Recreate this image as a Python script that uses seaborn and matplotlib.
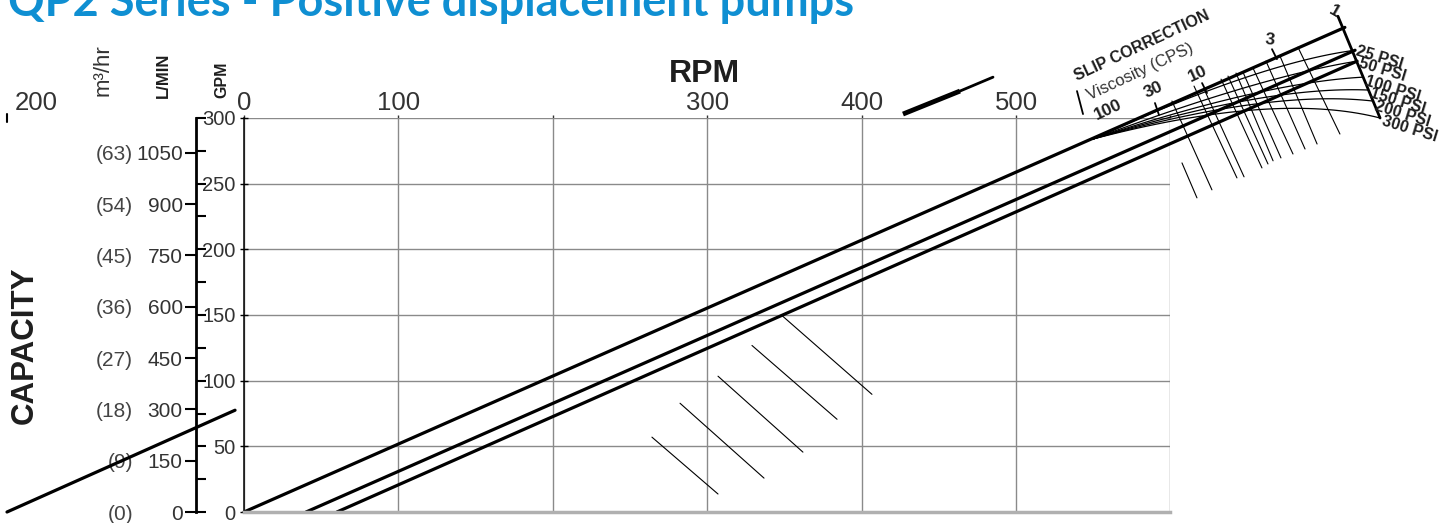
import numpy as np
import pandas as pd
import matplotlib
matplotlib.use("Agg")
import matplotlib.pyplot as plt
import seaborn as sns

W, H = 1447, 523

# axes scales
rpm_ticks = [0, 100, 200, 300, 400, 500, 600]
rpm_labels = ["0", "100", "", "300", "400", "500", ""]
gpm_ticks = [0, 50, 100, 150, 200, 250, 300]
gpm_all_ticks = [0, 25, 50, 75, 100, 125, 150, 175, 200, 225, 250, 275, 300]
lmin_ticks = [0, 150, 300, 450, 600, 750, 900, 1050]
m3hr_labels = ["(0)", "(9)", "(18)", "(27)", "(36)", "(45)", "(54)", "(63)"]
LMIN_PER_GPM = 3.84

# the three capacity lines (rpm, gpm)
cap_start_rpm = [0, 40.2, 60.2]
cap_end_rpm = [713, 719.6, 720.9]
cap_end_gpm = [369, 351.6, 343.3]

# pressure fan of the slip correction
fan_rpm, fan_gpm = 549.9, 284
psi_labels = ["25 PSI", "50 PSI", "100 PSI", "150 PSI", "200 PSI", "300 PSI"]
psi_end_rpm = [719.6, 720.9, 724.7, 728.0, 731.2, 735.8]
psi_end_gpm = [351.6, 343.3, 331.1, 321.3, 312.9, 300.0]
psi_bend_rpm = [658, 658, 660, 662, 664, 668]
psi_bend_gpm = [342.1, 331.5, 327.0, 324.5, 322.0, 320.5]
psi_scale_rpm = [708.5, 735.8]
psi_scale_gpm = [377.5, 300.0]

# viscosity hatch lines
hatch_rpm0 = [607.5, 601.0, 615.3, 621.8, 632.8, 637.3, 642.5, 647.0, 653.5, 661.9, 671.0, 682.6]
hatch_gpm0 = [265.8, 312.9, 324.3, 322.0, 329.6, 331.9, 334.2, 334.9, 338.0, 343.3, 347.1, 353.9]
hatch_rpm1 = [617.2, 626.9, 643.1, 647.7, 659.3, 663.2, 666.5, 671.6, 679.4, 687.2, 695.0, 709.8]
hatch_gpm1 = [239.2, 245.3, 254.4, 255.2, 262.0, 265.0, 267.4, 269.6, 272.6, 276.4, 280.2, 287.8]

# viscosity scale ticks
visc_rpm0 = [539.5, 590.0, 620.5, 665.8]
visc_gpm0 = [320.5, 311.4, 326.6, 352.4]
visc_rpm1 = [543.4, 592.6, 623.7, 669.0]
visc_gpm1 = [303.0, 302.3, 319.0, 344.8]

# thin guide lines inside the chart
guide_rpm0 = [264.2, 282.4, 307.0, 329.0, 348.4]
guide_gpm0 = [57.0, 82.8, 103.4, 126.8, 149.6]
guide_rpm1 = [307.0, 336.8, 362.0, 384.1, 406.7]
guide_gpm1 = [13.7, 25.8, 45.6, 70.6, 89.6]

# fragments
wedge_rpm = [426.8, 463.7, 485.1]
wedge_gpm = [303.0, 320.5, 331.1]
left_rpm = [-153.5, -5.8]
left_gpm = [0, 77.5]

sns.set_theme(style="white")
plt.rcParams["font.family"] = ["Liberation Sans", "DejaVu Sans"]
txt = "#333333"
dark = "#1e1e1e"

fig = plt.figure(figsize=(W / 100, H / 100), dpi=100)
ax = fig.add_axes([244 / W, (H - 512) / H, (1170.4 - 244) / W, (512 - 118) / H])

cap = pd.DataFrame({
    "rpm": cap_start_rpm + cap_end_rpm,
    "gpm": [0, 0, 0] + cap_end_gpm,
    "line": [0, 1, 2, 0, 1, 2],
})
sns.lineplot(data=cap, x="rpm", y="gpm", units="line", estimator=None,
             color="black", lw=2.3, clip_on=False, legend=False, ax=ax)

# pressure curves (quadratic bezier from the fan point)
t = np.linspace(0, 1, 40)
for ex, ey, bx, by in zip(psi_end_rpm, psi_end_gpm, psi_bend_rpm, psi_bend_gpm):
    cx = (1 - t) ** 2 * fan_rpm + 2 * t * (1 - t) * bx + t ** 2 * ex
    cy = (1 - t) ** 2 * fan_gpm + 2 * t * (1 - t) * by + t ** 2 * ey
    ax.plot(cx, cy, color="black", lw=0.9, clip_on=False)
ax.plot(psi_scale_rpm, psi_scale_gpm, color="black", lw=2.0, clip_on=False)

for x0, y0, x1, y1 in zip(hatch_rpm0, hatch_gpm0, hatch_rpm1, hatch_gpm1):
    ax.plot([x0, x1], [y0, y1], color="black", lw=0.8, clip_on=False)
for x0, y0, x1, y1 in zip(visc_rpm0, visc_gpm0, visc_rpm1, visc_gpm1):
    ax.plot([x0, x1], [y0, y1], color="black", lw=1.3, clip_on=False)
for x0, y0, x1, y1 in zip(guide_rpm0, guide_gpm0, guide_rpm1, guide_gpm1):
    ax.plot([x0, x1], [y0, y1], color="black", lw=0.8, clip_on=False)

ax.plot(wedge_rpm[:2], wedge_gpm[:2], color="black", lw=3.5, clip_on=False, solid_capstyle="butt")
ax.plot(wedge_rpm[1:], wedge_gpm[1:], color="black", lw=2.0, clip_on=False)
ax.plot(left_rpm, left_gpm, color="black", lw=2.3, clip_on=False)
ax.plot([-153.5, -153.5], [297, 303], color="black", lw=1.5, clip_on=False)

ax.set_xlim(0, 600)
ax.set_ylim(0, 300)
ax.set_xticks(rpm_ticks, rpm_labels)
ax.set_yticks(gpm_ticks, [str(v) for v in gpm_ticks])
ax.set_xlabel("")
ax.set_ylabel("")
ax.grid(True, color="#8a8a8a", lw=1.0)
ax.set_axisbelow(True)
ax.spines["top"].set_visible(False)
ax.spines["right"].set_visible(False)
ax.spines["left"].set_color("black")
ax.spines["left"].set_linewidth(1.1)
ax.spines["bottom"].set_color("#b0b0b0")
ax.spines["bottom"].set_linewidth(2.5)
ax.tick_params(axis="x", top=True, bottom=False, labeltop=True, labelbottom=False,
               direction="out", length=2, width=1, color=txt, pad=0,
               labelsize=18.5, labelcolor=txt)
ax.tick_params(axis="y", left=True, direction="inout", length=6, width=1,
               color="black", pad=3, labelsize=14.5, labelcolor=txt)

loc = (196 - 244) / (1170.4 - 244)
conv = (lambda g: g * LMIN_PER_GPM, lambda l: l / LMIN_PER_GPM)
lmin = ax.secondary_yaxis(loc, functions=conv)
lmin.set_yticks(lmin_ticks, [str(v) for v in lmin_ticks])
lmin.tick_params(direction="out", length=8, width=1.5, pad=1.5, labelsize=15,
                 labelcolor=txt, color="black")
lmin.spines["left"].set_linewidth(2.0)
lmin.spines["left"].set_color("black")

gpm_in = ax.secondary_yaxis(loc)
gpm_in.set_yticks(gpm_all_ticks, [""] * len(gpm_all_ticks))
gpm_in.tick_params(direction="in", length=7, width=1.5, color="black")
gpm_in.spines["left"].set_visible(False)

m3 = ax.secondary_yaxis((133 - 244) / (1170.4 - 244), functions=conv)
m3.set_yticks(lmin_ticks, m3hr_labels)
m3.tick_params(length=0, pad=0, labelsize=15, labelcolor="#444444")
m3.spines["left"].set_visible(False)


def ft(x, y, s, **kw):
    fig.text(x / W, 1 - y / H, s, **kw)


ft(8, 16.5, "QP2 Series - Positive displacement pumps", fontsize=32.5, weight="bold",
   color="#0f8fd2", family=["Lato", "DejaVu Sans"], va="baseline", ha="left")
ft(704, 74, "RPM", fontsize=23, weight="bold", color=dark, ha="center", va="center")
ft(25, 345, "CAPACITY", fontsize=22.5, weight="bold", color=dark, rotation=90,
   ha="center", va="center")
ft(103, 70, "m³/hr", fontsize=16, color=txt, rotation=90, ha="center", va="center")
ft(163, 75, "L/MIN", fontsize=12, weight="bold", color=dark, rotation=90,
   ha="center", va="center")
ft(222, 80, "GPM", fontsize=11.5, weight="bold", color=dark, rotation=90,
   ha="center", va="center")
ft(36, 103, "200", fontsize=18.5, color=txt, ha="center", va="center")

ft(1142, 46, "SLIP CORRECTION", fontsize=11.5, weight="bold", color=dark,
   rotation=25, ha="center", va="center", rotation_mode="anchor")
ft(1140, 72, "Viscosity (CPS)", fontsize=12, color=txt, rotation=25,
   ha="center", va="center", rotation_mode="anchor")
for s, (x, y, r) in zip(["100", "30", "10", "3", "1"],
                        [(1108, 110, 25), (1153, 90, 25), (1198, 74, 25),
                         (1270, 40, -5), (1334, 12, -30)]):
    ft(x, y, s, fontsize=12.5, weight="bold", color=dark, rotation=r,
       ha="center", va="center", rotation_mode="anchor")
for s, (x, y) in zip(psi_labels, [(1356, 51), (1359, 63), (1365, 81), (1370, 93),
                                  (1375, 106), (1382, 121)]):
    ft(x, y, s, fontsize=11.5, weight="bold", color=dark, rotation=-17,
       ha="left", va="center", rotation_mode="anchor")

fig.savefig("out.png", dpi=100)
